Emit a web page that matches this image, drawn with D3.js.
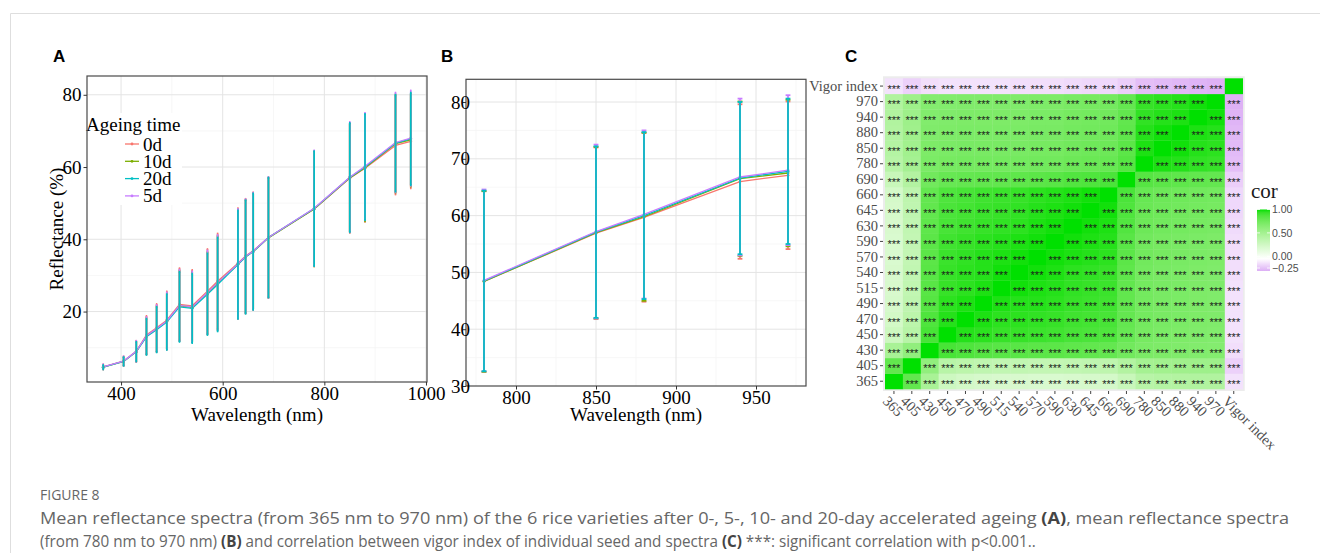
<!DOCTYPE html>
<html>
<head>
<meta charset="utf-8">
<script src="https://cdn.jsdelivr.net/npm/d3@7/dist/d3.min.js"></script>
<style>
body { margin: 0; background: #fff; }
</style>
</head>
<body>
<svg id="chart"></svg>
<script>
let width = 1320
let height = 553

// bands (nm)
let wavelengths = [365, 405, 430, 450, 470, 490, 515, 540, 570, 590, 630, 645, 660, 690, 780, 850, 880, 940, 970]
let groups = ['0d', '10d', '20d', '5d']
let groupColors = ['#F8766D', '#7CAE00', '#00BFC4', '#C77CFF']

// mean reflectance (%)
let mean0d  = [4.7, 6.3, 9.0, 13.5, 15.5, 17.6, 22.0, 21.6, 25.6, 28.4, 33.4, 35.4, 36.8, 40.5, 48.4, 56.9, 59.7, 66.0, 67.1]
let mean10d = [4.6, 6.2, 8.9, 13.2, 15.2, 17.3, 21.6, 21.2, 25.1, 27.9, 33.1, 35.2, 36.6, 40.4, 48.4, 57.0, 59.8, 66.5, 67.5]
let mean20d = [4.6, 6.2, 8.9, 13.0, 15.0, 17.1, 21.3, 20.9, 24.8, 27.5, 33.0, 35.1, 36.6, 40.5, 48.5, 57.1, 60.0, 66.6, 67.8]
let mean5d  = [4.7, 6.3, 9.0, 13.3, 15.3, 17.4, 21.7, 21.3, 25.3, 28.0, 33.2, 35.3, 36.7, 40.5, 48.6, 57.2, 60.2, 66.8, 68.0]

// standard deviations (error bars)
let sd0d  = [0.7, 1.3, 2.9, 5.3, 6.6, 8.0, 10.0, 9.9, 11.7, 13.2, 15.2, 15.8, 16.2, 16.7, 15.9, 15.1, 14.85, 13.6, 13.0]
let sd10d = [0.6, 1.2, 2.8, 5.1, 6.4, 7.8, 9.8, 9.7, 11.4, 13.1, 15.1, 15.7, 16.1, 16.6, 15.9, 15.1, 14.8, 13.6, 12.9]
let sd20d = [0.6, 1.2, 2.7, 5.0, 6.3, 7.7, 9.7, 9.6, 11.3, 13.0, 15.0, 15.7, 16.1, 16.6, 15.9, 15.1, 14.7, 13.4, 12.8]
let sd5d  = [0.7, 1.3, 2.9, 5.2, 6.5, 7.9, 9.9, 9.8, 11.6, 13.2, 15.2, 15.8, 16.2, 16.7, 16.0, 15.3, 14.8, 13.8, 13.2]

let means = [mean0d, mean10d, mean20d, mean5d]
let sds = [sd0d, sd10d, sd20d, sd5d]

// panel C: lower triangle of the correlation matrix (row i vs columns 0..i-1)
let bandLabels = wavelengths.map(String).concat(['Vigor index'])
let corrRows = [
  [],
  [0.82],
  [0.50, 0.62],
  [0.30, 0.42, 0.90],
  [0.27, 0.40, 0.88, 0.97],
  [0.25, 0.38, 0.86, 0.96, 0.98],
  [0.24, 0.37, 0.85, 0.94, 0.96, 0.98],
  [0.24, 0.37, 0.85, 0.94, 0.96, 0.97, 0.99],
  [0.23, 0.36, 0.84, 0.93, 0.95, 0.97, 0.98, 0.99],
  [0.23, 0.36, 0.84, 0.92, 0.94, 0.96, 0.97, 0.98, 0.99],
  [0.24, 0.37, 0.83, 0.90, 0.92, 0.94, 0.95, 0.96, 0.98, 0.99],
  [0.25, 0.38, 0.82, 0.89, 0.91, 0.93, 0.94, 0.95, 0.97, 0.98, 0.99],
  [0.26, 0.39, 0.81, 0.88, 0.90, 0.92, 0.93, 0.94, 0.96, 0.97, 0.98, 0.99],
  [0.33, 0.45, 0.76, 0.80, 0.81, 0.82, 0.82, 0.83, 0.84, 0.85, 0.87, 0.88, 0.89],
  [0.42, 0.52, 0.72, 0.74, 0.75, 0.75, 0.75, 0.75, 0.76, 0.76, 0.78, 0.79, 0.80, 0.86],
  [0.44, 0.54, 0.71, 0.72, 0.73, 0.73, 0.73, 0.73, 0.74, 0.74, 0.76, 0.77, 0.78, 0.84, 0.98],
  [0.45, 0.55, 0.70, 0.71, 0.72, 0.72, 0.72, 0.72, 0.73, 0.73, 0.75, 0.76, 0.77, 0.83, 0.97, 0.99],
  [0.46, 0.56, 0.69, 0.70, 0.71, 0.71, 0.71, 0.71, 0.72, 0.72, 0.74, 0.75, 0.76, 0.82, 0.95, 0.97, 0.98],
  [0.46, 0.56, 0.68, 0.69, 0.70, 0.70, 0.70, 0.70, 0.71, 0.71, 0.73, 0.74, 0.75, 0.81, 0.94, 0.96, 0.97, 0.99],
  [-0.09, -0.14, -0.10, -0.09, -0.09, -0.09, -0.09, -0.10, -0.10, -0.10, -0.11, -0.12, -0.12, -0.15, -0.20, -0.21, -0.22, -0.23, -0.24]
]
let corTicks = [1.00, 0.50, 0.00, -0.25]

let serif = "'Liberation Serif', 'Times New Roman', serif"
let sans = "'Liberation Sans', Arial, sans-serif"

let svg = d3.select('#chart').attr('width', width).attr('height', height)
svg.append('rect').attr('width', width).attr('height', height).attr('fill', '#fff')
svg.append('path').attr('d', 'M10.5,553 V13.5 H1320').attr('fill', 'none').attr('stroke', '#dedede')

let series = groups.map((name, k) => ({
  name: name,
  color: groupColors[k],
  values: wavelengths.map((w, i) => ({ w: w, m: means[k][i], sd: sds[k][i] }))
}))

let drawSpectra = (p) => {
  let g = svg.append('g')
  let x = d3.scaleLinear().domain(p.xDomain).range([p.left, p.right])
  let y = d3.scaleLinear().domain(p.yDomain).range([p.bottom, p.top])

  let gridLine = (vals, minor) => {
    g.append('g').selectAll('line').data(vals.filter(d => x(d) > p.left && x(d) < p.right)).enter().append('line')
      .attr('x1', d => x(d)).attr('x2', d => x(d)).attr('y1', p.top).attr('y2', p.bottom)
      .attr('stroke', minor ? '#f3f3f3' : '#e4e4e4').attr('stroke-width', minor ? 0.7 : 1)
  }
  let gridLineY = (vals, minor) => {
    g.append('g').selectAll('line').data(vals.filter(d => y(d) > p.top && y(d) < p.bottom)).enter().append('line')
      .attr('y1', d => y(d)).attr('y2', d => y(d)).attr('x1', p.left).attr('x2', p.right)
      .attr('stroke', minor ? '#f3f3f3' : '#e4e4e4').attr('stroke-width', minor ? 0.7 : 1)
  }
  gridLine(p.xMinor, true)
  gridLineY(p.yMinor, true)
  gridLine(p.xTicks, false)
  gridLineY(p.yTicks, false)

  let pts = (s) => s.values.filter(d => d.w >= p.minBand)

  let line = d3.line().x(d => x(d.w)).y(d => y(d.m))
  series.forEach(s => {
    g.append('path').datum(pts(s)).attr('d', line)
      .attr('fill', 'none').attr('stroke', s.color).attr('stroke-width', 1.3)
  })
  series.forEach(s => {
    g.append('g').selectAll('circle').data(pts(s)).enter().append('circle')
      .attr('cx', d => x(d.w)).attr('cy', d => y(d.m)).attr('r', 1.4).attr('fill', s.color)
  })

  // error bars, 20d drawn last
  let barOrder = [series[0], series[1], series[3], series[2]]
  barOrder.forEach(s => {
    let eb = g.append('g').selectAll('g').data(pts(s)).enter().append('g')
    eb.append('line')
      .attr('x1', d => x(d.w)).attr('x2', d => x(d.w))
      .attr('y1', d => y(d.m - d.sd)).attr('y2', d => y(d.m + d.sd))
      .attr('stroke', s.color).attr('stroke-width', 1.7)
    eb.append('line')
      .attr('x1', d => x(d.w - 1.5)).attr('x2', d => x(d.w + 1.5))
      .attr('y1', d => y(d.m + d.sd)).attr('y2', d => y(d.m + d.sd))
      .attr('stroke', s.color).attr('stroke-width', 1.8)
    eb.append('line')
      .attr('x1', d => x(d.w - 1.5)).attr('x2', d => x(d.w + 1.5))
      .attr('y1', d => y(d.m - d.sd)).attr('y2', d => y(d.m - d.sd))
      .attr('stroke', s.color).attr('stroke-width', 1.8)
  })

  if (p.legend) {
    let lg = g.append('g')
    lg.append('rect').attr('x', 88).attr('y', 113).attr('width', 94).attr('height', 92).attr('fill', '#fff')
    lg.append('text').text('Ageing time').attr('x', 86).attr('y', 131)
      .attr('font-family', serif).attr('font-size', 19)
    let item = lg.selectAll('.item').data(series).enter().append('g')
      .attr('transform', (d, i) => 'translate(0,' + (144 + i * 17.3) + ')')
    item.append('line').attr('x1', 125).attr('x2', 139).attr('y1', 0).attr('y2', 0)
      .attr('stroke', d => d.color).attr('stroke-width', 1.3)
    item.append('circle').attr('cx', 132).attr('cy', 0).attr('r', 1.4).attr('fill', d => d.color)
    item.append('text').text(d => d.name).attr('x', 143).attr('y', 6.5)
      .attr('font-family', serif).attr('font-size', 19)
  }

  g.append('rect').attr('x', p.left).attr('y', p.top)
    .attr('width', p.right - p.left).attr('height', p.bottom - p.top)
    .attr('fill', 'none').attr('stroke', '#4a4a4a').attr('stroke-width', 1.2)

  let xAxis = d3.axisBottom(x).tickValues(p.xTicks).tickSize(3.5).tickPadding(1.5).tickFormat(d3.format('d'))
  let yAxis = d3.axisLeft(y).tickValues(p.yTicks).tickSize(3.5).tickPadding(p.yPad).tickFormat(d3.format('d'))

  let ax = g.append('g').attr('transform', 'translate(0,' + p.bottom + ')').call(xAxis)
  let ay = g.append('g').attr('transform', 'translate(' + p.left + ',0)').call(yAxis)
  ;[ax, ay].forEach(a => {
    a.select('.domain').remove()
    a.selectAll('line').attr('stroke', '#333')
    a.selectAll('text').attr('font-family', serif).attr('font-size', 19).attr('fill', '#000')
  })

  g.append('text').text('Wavelength (nm)')
    .attr('x', (p.left + p.right) / 2).attr('y', 421)
    .attr('text-anchor', 'middle').attr('font-family', serif).attr('font-size', 19)

  if (p.yTitle) {
    g.append('text').text(p.yTitle)
      .attr('transform', 'translate(63,' + ((p.top + p.bottom) / 2) + ') rotate(-90)')
      .attr('text-anchor', 'middle').attr('font-family', serif).attr('font-size', 19)
  }
}

drawSpectra({
  left: 87, right: 427, top: 76, bottom: 382,
  xDomain: [333, 1002], yDomain: [0.5, 85.2],
  xTicks: [400, 600, 800, 1000], xMinor: [500, 700, 900],
  yTicks: [20, 40, 60, 80], yMinor: [10, 30, 50, 70],
  minBand: 0, yPad: 2, yTitle: 'Reflectance (%)', legend: true
})

drawSpectra({
  left: 466, right: 806, top: 79.3, bottom: 386,
  xDomain: [768.75, 981.25], yDomain: [30, 84],
  xTicks: [800, 850, 900, 950], xMinor: [775, 825, 875, 925, 975],
  yTicks: [30, 40, 50, 60, 70, 80], yMinor: [35, 45, 55, 65, 75],
  minBand: 780, yPad: -7.5, yTitle: null, legend: false
})

// panel C heatmap
let corrAt = (i, j) => i === j ? 1 : (i > j ? corrRows[i][j] : corrRows[j][i])
let cells = []
bandLabels.forEach((r, i) => bandLabels.forEach((c, j) => cells.push({ row: r, col: c, i: i, j: j, v: corrAt(i, j) })))

let hx = d3.scaleBand().domain(bandLabels).range([885, 1242.7])
let hy = d3.scaleBand().domain(bandLabels.slice().reverse()).range([78.3, 389])
let corColor = d3.scaleLinear().domain([-0.25, 0, 1]).range(['#dcaef5', '#ffffff', '#00e000']).interpolate(d3.interpolateLab)

let hg = svg.append('g')
hg.append('rect').attr('x', 883).attr('y', 76.3).attr('width', 1244.7 - 883).attr('height', 391 - 76.3).attr('fill', '#ececec')
hg.selectAll('rect.cell').data(cells).enter().append('rect').attr('class', 'cell')
  .attr('x', d => hx(d.col)).attr('y', d => hy(d.row))
  .attr('width', hx.bandwidth() + 0.3).attr('height', hy.bandwidth() + 0.3)
  .attr('fill', d => corColor(d.v))
hg.selectAll('text.star').data(cells.filter(d => d.i !== d.j)).enter().append('text').attr('class', 'star')
  .text('***')
  .attr('x', d => hx(d.col) + hx.bandwidth() / 2).attr('y', d => hy(d.row) + hy.bandwidth() / 2 + 6.6)
  .attr('text-anchor', 'middle').attr('font-family', sans).attr('font-size', 11).attr('fill', '#1a1a1a')

let hAxisY = hg.append('g').attr('transform', 'translate(883,0)').call(d3.axisLeft(hy).tickSize(3).tickPadding(2))
let hAxisX = hg.append('g').attr('transform', 'translate(0,391)').call(d3.axisBottom(hx).tickSize(3))
;[hAxisX, hAxisY].forEach(a => {
  a.select('.domain').remove()
  a.selectAll('line').attr('stroke', '#444')
  a.selectAll('text').attr('font-family', serif).attr('font-size', 14.5).attr('fill', '#4d4d4d')
})
hAxisX.selectAll('text')
  .attr('y', 0).attr('dy', 0).attr('text-anchor', 'start')
  .attr('transform', 'translate(-12,11) rotate(45)')

// colour bar legend
let legScale = d3.scaleLinear().domain([-0.25, 1]).range([268, 209.5])
let grad = svg.append('defs').append('linearGradient').attr('id', 'corGrad')
  .attr('x1', '0%').attr('x2', '0%').attr('y1', '100%').attr('y2', '0%')
d3.range(0, 1.0001, 0.05).forEach(t => {
  grad.append('stop').attr('offset', (t * 100) + '%').attr('stop-color', corColor(-0.25 + t * 1.25))
})
let lgC = svg.append('g')
lgC.append('text').text('cor').attr('x', 1251).attr('y', 198).attr('font-family', serif).attr('font-size', 21).attr('fill', '#1a1a1a')
lgC.append('rect').attr('x', 1257).attr('y', legScale(1)).attr('width', 13).attr('height', legScale(-0.25) - legScale(1) + 3)
  .attr('fill', 'url(#corGrad)')
lgC.selectAll('line.tk').data(corTicks).enter().append('line').attr('class', 'tk')
  .attr('x1', 1257).attr('x2', 1260).attr('y1', d => legScale(d)).attr('y2', d => legScale(d))
  .attr('stroke', '#fff').attr('stroke-width', 0.8)
lgC.selectAll('line.tk2').data(corTicks).enter().append('line').attr('class', 'tk2')
  .attr('x1', 1267).attr('x2', 1270).attr('y1', d => legScale(d)).attr('y2', d => legScale(d))
  .attr('stroke', '#fff').attr('stroke-width', 0.8)
lgC.selectAll('text.lab').data(corTicks).enter().append('text').attr('class', 'lab')
  .text(d => d3.format('.2f')(d))
  .attr('x', 1272).attr('y', d => legScale(d) + 3.8)
  .attr('font-family', sans).attr('font-size', 10.5).attr('fill', '#4d4d4d')

// panel letters
let letters = ['A', 'B', 'C']
let letterX = [53, 441, 845]
svg.selectAll('text.letter').data(letters).enter().append('text').attr('class', 'letter')
  .text(d => d).attr('x', (d, i) => letterX[i]).attr('y', 62)
  .attr('font-family', sans).attr('font-weight', 'bold').attr('font-size', 17)

// caption
let cap = svg.append('g').attr('font-family', "'Open Sans', 'Noto Sans', sans-serif").attr('fill', '#666')
cap.append('text').text('FIGURE 8').attr('x', 40).attr('y', 500).attr('font-size', 14)
let l1 = cap.append('text').attr('font-size', 16)
l1.append('tspan').text('Mean reflectance spectra (from 365 nm to 970 nm) of the 6 rice varieties after 0-, 5-, 10- and 20-day accelerated ageing ')
l1.append('tspan').text('(A)').attr('font-weight', 'bold').attr('fill', '#444')
l1.append('tspan').text(', mean reflectance spectra')
let l2 = cap.append('text').attr('font-size', 16)
l2.append('tspan').text('(from 780 nm to 970 nm) ')
l2.append('tspan').text('(B)').attr('font-weight', 'bold').attr('fill', '#444')
l2.append('tspan').text(' and correlation between vigor index of individual seed and spectra ')
l2.append('tspan').text('(C)').attr('font-weight', 'bold').attr('fill', '#444')
l2.append('tspan').text(' ***: significant correlation with p<0.001..')

// squeeze each caption line horizontally to the width it takes in the figure
let fitLine = (t, y, w) => {
  let sx = w / t.node().getComputedTextLength()
  t.attr('transform', 'translate(40,' + y + ') scale(' + sx + ',1)')
}
fitLine(l1, 524, 1250)
fitLine(l2, 547, 997)
</script>
</body>
</html>
